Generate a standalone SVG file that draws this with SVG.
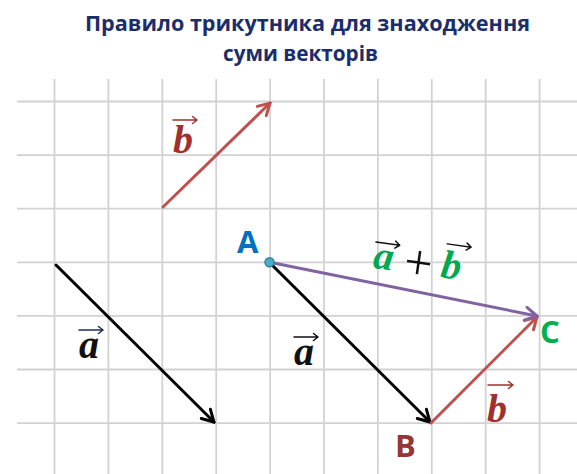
<svg xmlns="http://www.w3.org/2000/svg" width="577" height="474" viewBox="0 0 577 474">
<style>
.title{font-family:"Open Sans","Noto Sans","DejaVu Sans",sans-serif;font-weight:bold;font-size:21px;fill:#1c2d6b;text-anchor:middle}
.grid line{stroke:#d2d2d2;stroke-width:1.8}
.vec{fill:none;stroke-width:3;stroke-linecap:round}
.va{stroke:#000}
.vb{stroke:#c0504d}
.vs{stroke:#8064a2}
.mv{font-family:"Liberation Serif","Times New Roman",serif;font-style:italic;font-weight:bold;font-size:40px}
.acc{fill:none;stroke-width:1.5;stroke-linecap:round;stroke-linejoin:round}
.pt{font-family:"Open Sans","Noto Sans","Liberation Sans",sans-serif;font-weight:bold;font-size:31px}
</style>
<defs>
<marker id="hA" viewBox="0 0 16 16" refX="14" refY="8" markerWidth="16" markerHeight="16" markerUnits="userSpaceOnUse" orient="auto"><path d="M2.5,1.5 L14,8 L2.5,14.5" fill="none" stroke="#000" stroke-width="3" stroke-linecap="round" stroke-linejoin="miter"/></marker>
<marker id="hB" viewBox="0 0 16 16" refX="14" refY="8" markerWidth="16" markerHeight="16" markerUnits="userSpaceOnUse" orient="auto"><path d="M2.5,1.5 L14,8 L2.5,14.5" fill="none" stroke="#c0504d" stroke-width="3" stroke-linecap="round" stroke-linejoin="miter"/></marker>
<marker id="hS" viewBox="0 0 16 16" refX="14" refY="8" markerWidth="16" markerHeight="16" markerUnits="userSpaceOnUse" orient="auto"><path d="M2.5,1.5 L14,8 L2.5,14.5" fill="none" stroke="#8064a2" stroke-width="3" stroke-linecap="round" stroke-linejoin="miter"/></marker>
</defs>
<rect width="577" height="474" fill="#fff"/>
<g id="title">
<text class="title" x="307.5" y="31" textLength="445" lengthAdjust="spacingAndGlyphs">Правило трикутника для знаходження</text>
<text class="title" x="300.5" y="61" textLength="155" lengthAdjust="spacingAndGlyphs">суми векторів</text>
</g>
<g id="grid" class="grid">
<line x1="17" y1="101.5" x2="577" y2="101.5"/>
<line x1="17" y1="155.1" x2="577" y2="155.1"/>
<line x1="17" y1="208.7" x2="577" y2="208.7"/>
<line x1="17" y1="262.3" x2="577" y2="262.3"/>
<line x1="17" y1="315.9" x2="577" y2="315.9"/>
<line x1="17" y1="369.5" x2="577" y2="369.5"/>
<line x1="17" y1="423.1" x2="577" y2="423.1"/>
<line x1="54.5" y1="79" x2="54.5" y2="474"/>
<line x1="108.4" y1="79" x2="108.4" y2="474"/>
<line x1="162.3" y1="79" x2="162.3" y2="474"/>
<line x1="216.2" y1="79" x2="216.2" y2="474"/>
<line x1="270.1" y1="79" x2="270.1" y2="474"/>
<line x1="324" y1="79" x2="324" y2="474"/>
<line x1="377.9" y1="79" x2="377.9" y2="474"/>
<line x1="431.8" y1="79" x2="431.8" y2="474"/>
<line x1="485.7" y1="79" x2="485.7" y2="474"/>
<line x1="539.6" y1="79" x2="539.6" y2="474"/>
</g>
<g id="connectors">
<line id="vec-a-left" class="vec va" x1="56" y1="265" x2="214" y2="422" marker-end="url(#hA)"/>
<line id="vec-b-top" class="vec vb" x1="163" y1="207" x2="270" y2="103" marker-end="url(#hB)"/>
<line id="vec-AB" class="vec va" x1="271" y1="264" x2="430" y2="422" marker-end="url(#hA)"/>
<line id="vec-BC" class="vec vb" x1="431" y1="423" x2="537" y2="317" marker-end="url(#hB)"/>
<line id="vec-AC" class="vec vs" x1="271" y1="262.5" x2="537" y2="316" marker-end="url(#hS)"/>
</g>
<g id="node-A">
<circle cx="269.5" cy="262.3" r="4.5" fill="#4bacc6" stroke="#31849b" stroke-width="1.5"/>
<text class="pt" x="237" y="253" fill="#0070c0">A</text>
</g>
<g id="node-B">
<text class="pt" x="395" y="457" fill="#953735">B</text>
</g>
<g id="node-C">
<text class="pt" x="540" y="343" fill="#00b050">C</text>
</g>
<g id="label-a-left">
<text class="mv" x="79" y="358" fill="#111">a</text>
<path class="acc" stroke="#1f2a5a" d="M79,330 H103 M98.5,326.5 L103,330 L98.5,333.5"/>
</g>
<g id="label-b-top">
<text class="mv" x="173" y="153" fill="#a0302e">b</text>
<path class="acc" stroke="#a0302e" d="M173,120 H197 M192.5,116.5 L197,120 L192.5,123.5"/>
</g>
<g id="label-a-mid">
<text class="mv" x="294" y="365" fill="#111">a</text>
<path class="acc" stroke="#111" d="M294,337 H318 M313.5,333.5 L318,337 L313.5,340.5"/>
</g>
<g id="label-b-bottom">
<text class="mv" x="487" y="422" fill="#a0302e">b</text>
<path class="acc" stroke="#a0302e" d="M488,385 H513 M508.5,381.5 L513,385 L508.5,388.5"/>
</g>
<g id="label-sum" transform="rotate(8 418 266)">
<text class="mv" x="373" y="274" fill="#00a84f">a</text>
<path class="acc" stroke="#111" d="M373,248 H397 M392.5,244.5 L397,248 L392.5,251.5"/>
<text x="418" y="279" font-family="Liberation Serif,serif" font-size="50" text-anchor="middle" fill="#111">+</text>
<text class="mv" x="441" y="274" fill="#00a84f">b</text>
<path class="acc" stroke="#111" d="M444,240 H468 M463.5,236.5 L468,240 L463.5,243.5"/>
</g>
</svg>
